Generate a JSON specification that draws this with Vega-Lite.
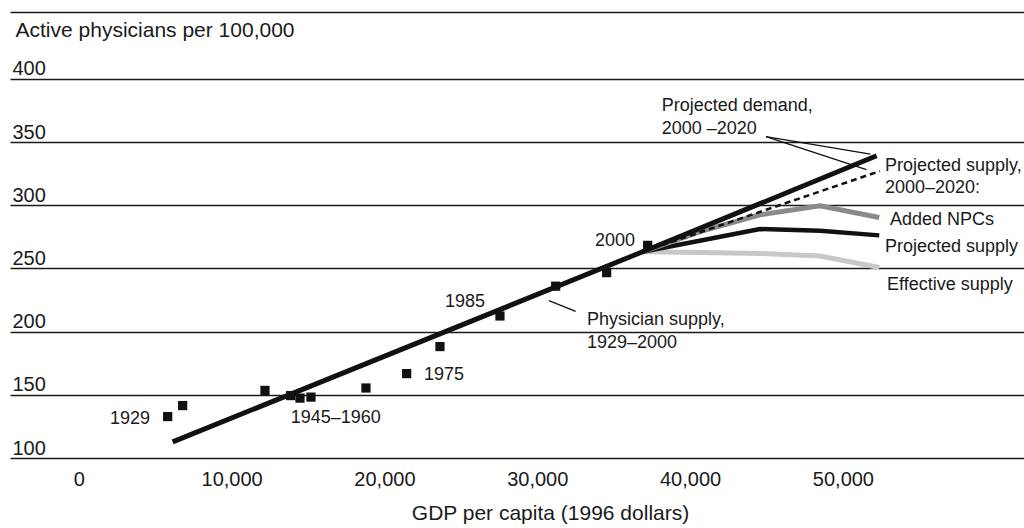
{
  "$schema": "https://vega.github.io/schema/vega-lite/v6.json",
  "width": 1014,
  "height": 446,
  "autosize": {"type": "none"},
  "padding": {"left": 10, "top": 12, "right": 0, "bottom": 70},
  "background": "white",
  "config": {"view": {"stroke": null}, "font": "Liberation Sans"},
  "datasets": {
    "points": [
      {"gdp": 5817, "value": 132.8, "year": "1929"},
      {"gdp": 6798, "value": 141.5, "year": "1930s"},
      {"gdp": 12184, "value": 153.5, "year": "1940s"},
      {"gdp": 13865, "value": 149.4, "year": "1945"},
      {"gdp": 14474, "value": 147.4, "year": "1950"},
      {"gdp": 15194, "value": 148.2, "year": "1960"},
      {"gdp": 18792, "value": 155.4, "year": "1965"},
      {"gdp": 21455, "value": 166.8, "year": "1970"},
      {"gdp": 23634, "value": 188.2, "year": "1975"},
      {"gdp": 27560, "value": 212.4, "year": "1985"},
      {"gdp": 31205, "value": 236.0, "year": "1990"},
      {"gdp": 34542, "value": 246.7, "year": "1995"},
      {"gdp": 37225, "value": 268.3, "year": "2000"}
    ],
    "lines": [
      {"series": "Trend", "gdp": 6144, "value": 112.8},
      {"series": "Trend", "gdp": 36897, "value": 263.2},
      {"series": "Trend", "gdp": 52208, "value": 339.2},
      {"series": "Supply with NPCs", "gdp": 36897, "value": 263.2},
      {"series": "Supply with NPCs", "gdp": 52424, "value": 327.1},
      {"series": "Added NPCs", "gdp": 36897, "value": 263.2},
      {"series": "Added NPCs", "gdp": 40712, "value": 279.3},
      {"series": "Added NPCs", "gdp": 44572, "value": 292.5},
      {"series": "Added NPCs", "gdp": 48499, "value": 299.6},
      {"series": "Added NPCs", "gdp": 52379, "value": 290.3},
      {"series": "Projected supply", "gdp": 36897, "value": 263.2},
      {"series": "Projected supply", "gdp": 40712, "value": 272.2},
      {"series": "Projected supply", "gdp": 44572, "value": 281.2},
      {"series": "Projected supply", "gdp": 48499, "value": 279.8},
      {"series": "Projected supply", "gdp": 52379, "value": 276.2},
      {"series": "Effective supply", "gdp": 36897, "value": 263.2},
      {"series": "Effective supply", "gdp": 40712, "value": 262.6},
      {"series": "Effective supply", "gdp": 44572, "value": 261.9},
      {"series": "Effective supply", "gdp": 48499, "value": 259.9},
      {"series": "Effective supply", "gdp": 52379, "value": 250.8}
    ],
    "labels": [
      {"gdp": 38141, "value": 375.0, "text": "Projected demand,"},
      {"gdp": 38141, "value": 356.6, "text": "2000 –2020"},
      {"gdp": 52752, "value": 327.1, "text": "Projected supply,"},
      {"gdp": 52752, "value": 309.5, "text": "2000–2020:"},
      {"gdp": 53079, "value": 284.5, "text": "Added NPCs"},
      {"gdp": 52752, "value": 263.2, "text": "Projected supply"},
      {"gdp": 52883, "value": 233.2, "text": "Effective supply"},
      {"gdp": 33776, "value": 268.0, "text": "2000"},
      {"gdp": 23962, "value": 219.6, "text": "1985"},
      {"gdp": 33253, "value": 205.1, "text": "Physician supply,"},
      {"gdp": 33253, "value": 186.9, "text": "1929–2000"},
      {"gdp": 22584, "value": 161.7, "text": "1975"},
      {"gdp": 2041, "value": 126.9, "text": "1929"},
      {"gdp": 13865, "value": 127.4, "text": "1945–1960"}
    ],
    "leaders": [
      {"gdp": 44965, "value": 354.3, "gdp2": 51800, "value2": 340.5},
      {"gdp": 44965, "value": 354.3, "gdp2": 51538, "value2": 328.3},
      {"gdp": 30766, "value": 224.5, "gdp2": 32513, "value2": 216.1}
    ]
  },
  "layer": [
    {
      "data": {"name": "lines"},
      "transform": [{"filter": "datum.series === 'Effective supply'"}],
      "mark": {"type": "line", "color": "#c8c8c8", "strokeWidth": 5},
      "encoding": {
        "x": {
          "field": "gdp", "type": "quantitative",
          "scale": {"domain": [-4500, 61850], "nice": false, "zero": false},
          "axis": {
            "title": "GDP per capita (1996 dollars)",
            "values": [0, 10000, 20000, 30000, 40000, 50000],
            "format": ",.0f",
            "domain": false, "ticks": false, "tickSize": 0, "grid": false,
            "labelFontSize": 20, "labelPadding": 27, "labelBaseline": "alphabetic",
            "labelColor": "#1a1a1a",
            "titleFontSize": 21, "titleFontWeight": "normal", "titleColor": "#1a1a1a",
            "titleX": 540, "titleY": 61, "titleAlign": "center", "titleBaseline": "alphabetic"
          }
        },
        "y": {
          "field": "value", "type": "quantitative",
          "scale": {"domain": [100, 453], "nice": false, "zero": false},
          "axis": {
            "title": "Active physicians per 100,000",
            "titleAngle": 0, "titleAlign": "left", "titleBaseline": "alphabetic",
            "titleX": 5, "titleY": 24, "titleFontSize": 21, "titleFontWeight": "normal",
            "titleColor": "#1a1a1a",
            "values": [100, 150, 200, 250, 300, 350, 400, 453],
            "labelExpr": "datum.value > 420 ? '' : datum.label",
            "grid": true, "gridColor": "#1a1a1a", "gridWidth": 1.5, "gridOpacity": 1,
            "domain": false, "ticks": false, "tickSize": 0,
            "labelPadding": -2, "labelAlign": "left", "labelBaseline": "alphabetic",
            "labelOffset": -4, "labelFontSize": 20, "labelColor": "#1a1a1a"
          }
        }
      }
    },
    {
      "data": {"name": "lines"},
      "transform": [{"filter": "datum.series === 'Projected supply'"}],
      "mark": {"type": "line", "color": "#111111", "strokeWidth": 4.5},
      "encoding": {
        "x": {"field": "gdp", "type": "quantitative"},
        "y": {"field": "value", "type": "quantitative"}
      }
    },
    {
      "data": {"name": "lines"},
      "transform": [{"filter": "datum.series === 'Added NPCs'"}],
      "mark": {"type": "line", "color": "#8a8a8a", "strokeWidth": 5},
      "encoding": {
        "x": {"field": "gdp", "type": "quantitative"},
        "y": {"field": "value", "type": "quantitative"}
      }
    },
    {
      "data": {"name": "lines"},
      "transform": [{"filter": "datum.series === 'Supply with NPCs'"}],
      "mark": {"type": "line", "color": "#111111", "strokeWidth": 2.5, "strokeDash": [6, 4]},
      "encoding": {
        "x": {"field": "gdp", "type": "quantitative"},
        "y": {"field": "value", "type": "quantitative"}
      }
    },
    {
      "data": {"name": "points"},
      "mark": {"type": "square", "size": 85, "color": "#111111", "opacity": 1},
      "encoding": {
        "x": {"field": "gdp", "type": "quantitative"},
        "y": {"field": "value", "type": "quantitative"}
      }
    },
    {
      "data": {"name": "lines"},
      "transform": [{"filter": "datum.series === 'Trend'"}],
      "mark": {"type": "line", "color": "#111111", "strokeWidth": 5},
      "encoding": {
        "x": {"field": "gdp", "type": "quantitative"},
        "y": {"field": "value", "type": "quantitative"}
      }
    },
    {
      "data": {"name": "leaders"},
      "mark": {"type": "rule", "color": "#111111", "strokeWidth": 1.3},
      "encoding": {
        "x": {"field": "gdp", "type": "quantitative"},
        "y": {"field": "value", "type": "quantitative"},
        "x2": {"field": "gdp2"},
        "y2": {"field": "value2"}
      }
    },
    {
      "data": {"name": "labels"},
      "mark": {"type": "text", "align": "left", "baseline": "alphabetic", "fontSize": 18, "color": "#1a1a1a"},
      "encoding": {
        "x": {"field": "gdp", "type": "quantitative"},
        "y": {"field": "value", "type": "quantitative"},
        "text": {"field": "text"}
      }
    }
  ]
}
